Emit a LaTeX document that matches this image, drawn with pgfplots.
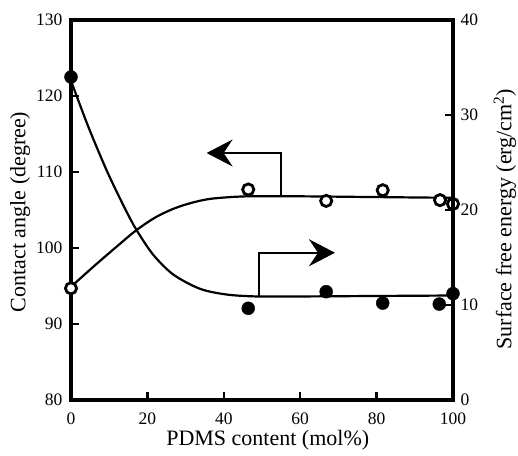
\documentclass[border=0pt]{standalone}
\usepackage{pgfplots}
\pgfplotsset{compat=1.18}
\usepackage{fontspec}
\setmainfont{Liberation Serif}
\usetikzlibrary{arrows.meta}

% open circles: contact angle (left axis)
\pgfplotstableread{
x    y
0    94.7
46.4 107.7
66.8 106.2
81.6 107.6
96.6 106.3
100  105.8
}\angledata
% filled circles: surface free energy (right axis)
\pgfplotstableread{
x    y
0    34.0
46.4 9.65
66.8 11.4
81.6 10.2
96.4 10.1
100  11.2
}\energydata

\pgfplotsset{
  common/.style={
    scale only axis, width=382pt, height=380pt,
    xmin=0, xmax=100, clip=false,
    tick align=inside,
    major tick length=8pt,
    major tick style={line width=2.4pt, black},
    axis line style={line width=3.2pt},
    tick label style={font=\fontsize{17.5}{20}\selectfont},
    label style={font=\fontsize{22}{26}\selectfont},
    /pgf/number format/assume math mode=true,
  },
}

\begin{document}
\begin{tikzpicture}
\path[use as bounding box] (-71pt,-55pt) rectangle (447pt,400pt);

\begin{axis}[common,
    ymin=80, ymax=130,
    xtick={0,20,...,100}, ytick={80,90,...,130},
    xtick pos=bottom, ytick pos=left,
    xticklabel style={yshift=-9pt},
    yticklabel style={xshift=-5pt},
    xlabel={PDMS content (mol\%)},
    ylabel={Contact angle (degree)},
    xlabel style={at={(axis description cs:0.515,-0.105)}, anchor=center},
    ylabel style={at={(axis description cs:-0.1335,0.495)}, anchor=center},
]
\addplot[line width=2.2pt, smooth, no marks] coordinates {
  (0,94.9) (6,97.6) (12,100.2) (17,102.3) (22,104.0) (27,105.2)
  (32,106.0) (37,106.5) (46,106.8) (60,106.8) (80,106.7) (100,106.6)
};
\addplot[only marks, mark=*, mark size=5.6pt,
  mark options={fill=white, draw=black, line width=2.8pt}] table {\angledata};
\draw[line width=2.2pt, -{Stealth[length=26pt, width=27pt, inset=9pt]}]
  (axis cs:54.9,106.8) |- (axis cs:35.5,112.5);
\end{axis}

\begin{axis}[common,
    ymin=0, ymax=40,
    axis x line=none, axis y line*=right,
    ytick={0,10,...,40}, ytick pos=right,
    yticklabel style={xshift=4pt},
    ylabel={Surface free energy (erg/cm\textsuperscript{2})},
    ylabel style={at={(axis description cs:1.136,0.476)}, anchor=center},
]
\addplot[line width=2.2pt, smooth, no marks] coordinates {
  (0,33.6) (4.5,28.8) (9.3,24.2) (13.7,20.5) (17,18.0) (21.5,15.3)
  (26.8,13.2) (33.8,11.7) (40.8,11.1) (48.6,10.9) (60,10.9) (80,10.95) (100,11.0)
};
\addplot[only marks, mark=*, mark size=6.5pt, fill=black] table {\energydata};
\draw[line width=2.2pt, -{Stealth[length=26pt, width=27pt, inset=9pt]}]
  (axis cs:49.3,10.95) |- (axis cs:69.1,15.5);
\end{axis}
\end{tikzpicture}
\end{document}
